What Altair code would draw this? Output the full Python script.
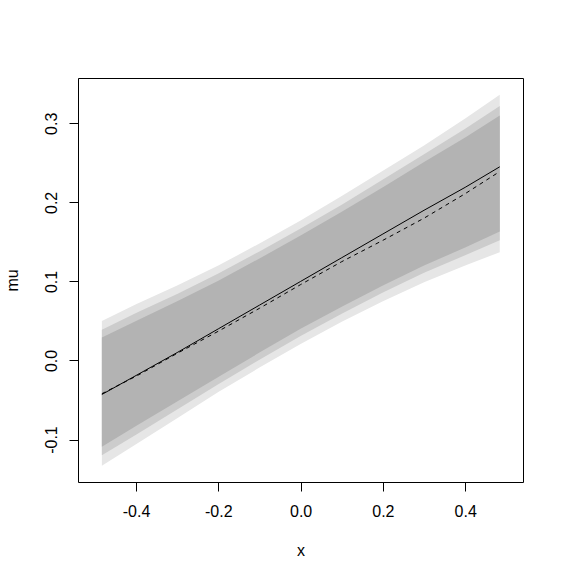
import altair as alt
import pandas as pd

# grid of x positions
xs = [-0.483, -0.4, -0.3, -0.2, -0.1, 0.0, 0.1, 0.2, 0.3, 0.4, 0.484]

# band boundaries (outer, middle, inner)
outer_lo = [-0.133, -0.106, -0.073, -0.040, -0.009, 0.021, 0.049, 0.075, 0.099, 0.120, 0.137]
outer_hi = [0.050, 0.071, 0.095, 0.120, 0.148, 0.177, 0.208, 0.240, 0.272, 0.306, 0.336]
middle_lo = [-0.120, -0.094, -0.062, -0.030, 0.001, 0.031, 0.059, 0.086, 0.111, 0.133, 0.152]
middle_hi = [0.039, 0.060, 0.084, 0.110, 0.138, 0.167, 0.197, 0.229, 0.261, 0.293, 0.322]
inner_lo = [-0.109, -0.083, -0.052, -0.021, 0.010, 0.040, 0.068, 0.095, 0.120, 0.143, 0.163]
inner_hi = [0.029, 0.050, 0.075, 0.101, 0.129, 0.158, 0.188, 0.219, 0.251, 0.282, 0.310]

# central lines
solid_mu = [-0.043, -0.019, 0.010, 0.040, 0.070, 0.100, 0.130, 0.160, 0.190, 0.219, 0.245]
dashed_mu = [-0.042, -0.020, 0.009, 0.037, 0.066, 0.096, 0.125, 0.152, 0.180, 0.211, 0.239]

x_ticks = [-0.4, -0.2, 0.0, 0.2, 0.4]
y_ticks = [-0.1, 0.0, 0.1, 0.2, 0.3]

df = pd.DataFrame({
    "x": xs,
    "olo": outer_lo, "ohi": outer_hi,
    "mlo": middle_lo, "mhi": middle_hi,
    "ilo": inner_lo, "ihi": inner_hi,
    "solid": solid_mu, "dashed": dashed_mu,
})

FONT = "Liberation Sans"
label_expr = "replace(format(datum.value, '.1f'), '\u2212', '-')"

xscale = alt.Scale(domain=[-0.541, 0.5405], nice=False, zero=False)
yscale = alt.Scale(domain=[-0.1537, 0.3573], nice=False, zero=False)

xaxis = alt.Axis(values=x_ticks, labelExpr=label_expr, title="x", domain=False, grid=False,
                 tickSize=9, tickColor="black", labelPadding=12, labelFont=FONT, labelFontSize=16,
                 labelColor="black", titleFont=FONT, titleFontSize=16, titleFontWeight="normal",
                 titleColor="black", titleX=222.5, titleY=73.3, titleBaseline="alphabetic",
                 titleAlign="center", labelFlush=False, labelOverlap=False)
yaxis = alt.Axis(values=y_ticks, labelExpr=label_expr, title="mu", domain=False, grid=False,
                 tickSize=9, tickColor="black", labelPadding=18, labelFont=FONT, labelFontSize=16,
                 labelColor="black", labelAngle=270, labelAlign="center", labelBaseline="middle",
                 titleFont=FONT, titleFontSize=16, titleFontWeight="normal", titleColor="black",
                 titleAngle=270, titleX=-61, titleY=202, titleBaseline="alphabetic",
                 titleAlign="center", labelFlush=False, labelOverlap=False)

base = alt.Chart(df)

outer = base.mark_area(color="#E6E6E6", opacity=1).encode(
    x=alt.X("x:Q", scale=xscale, axis=xaxis),
    y=alt.Y("olo:Q", scale=yscale, axis=yaxis),
    y2="ohi:Q",
)
middle = base.mark_area(color="#CCCCCC", opacity=1).encode(
    x=alt.X("x:Q", scale=xscale), y=alt.Y("mlo:Q", scale=yscale), y2="mhi:Q")
inner = base.mark_area(color="#B3B3B3", opacity=1).encode(
    x=alt.X("x:Q", scale=xscale), y=alt.Y("ilo:Q", scale=yscale), y2="ihi:Q")
solid = base.mark_line(color="black", strokeWidth=1).encode(
    x=alt.X("x:Q", scale=xscale), y=alt.Y("solid:Q", scale=yscale))
dashed = base.mark_line(color="black", strokeWidth=1, strokeDash=[4, 4]).encode(
    x=alt.X("x:Q", scale=xscale), y=alt.Y("dashed:Q", scale=yscale))

chart = alt.layer(outer, middle, inner, solid, dashed).properties(
    width=445, height=404,
    autosize=alt.AutoSizeParams(type="none"),
    padding={"left": 70, "top": 70, "right": 33, "bottom": 89},
    background="white",
).configure_view(stroke="black", strokeWidth=1)

chart.save("out.html", embed_options={"renderer": "svg", "actions": False})
